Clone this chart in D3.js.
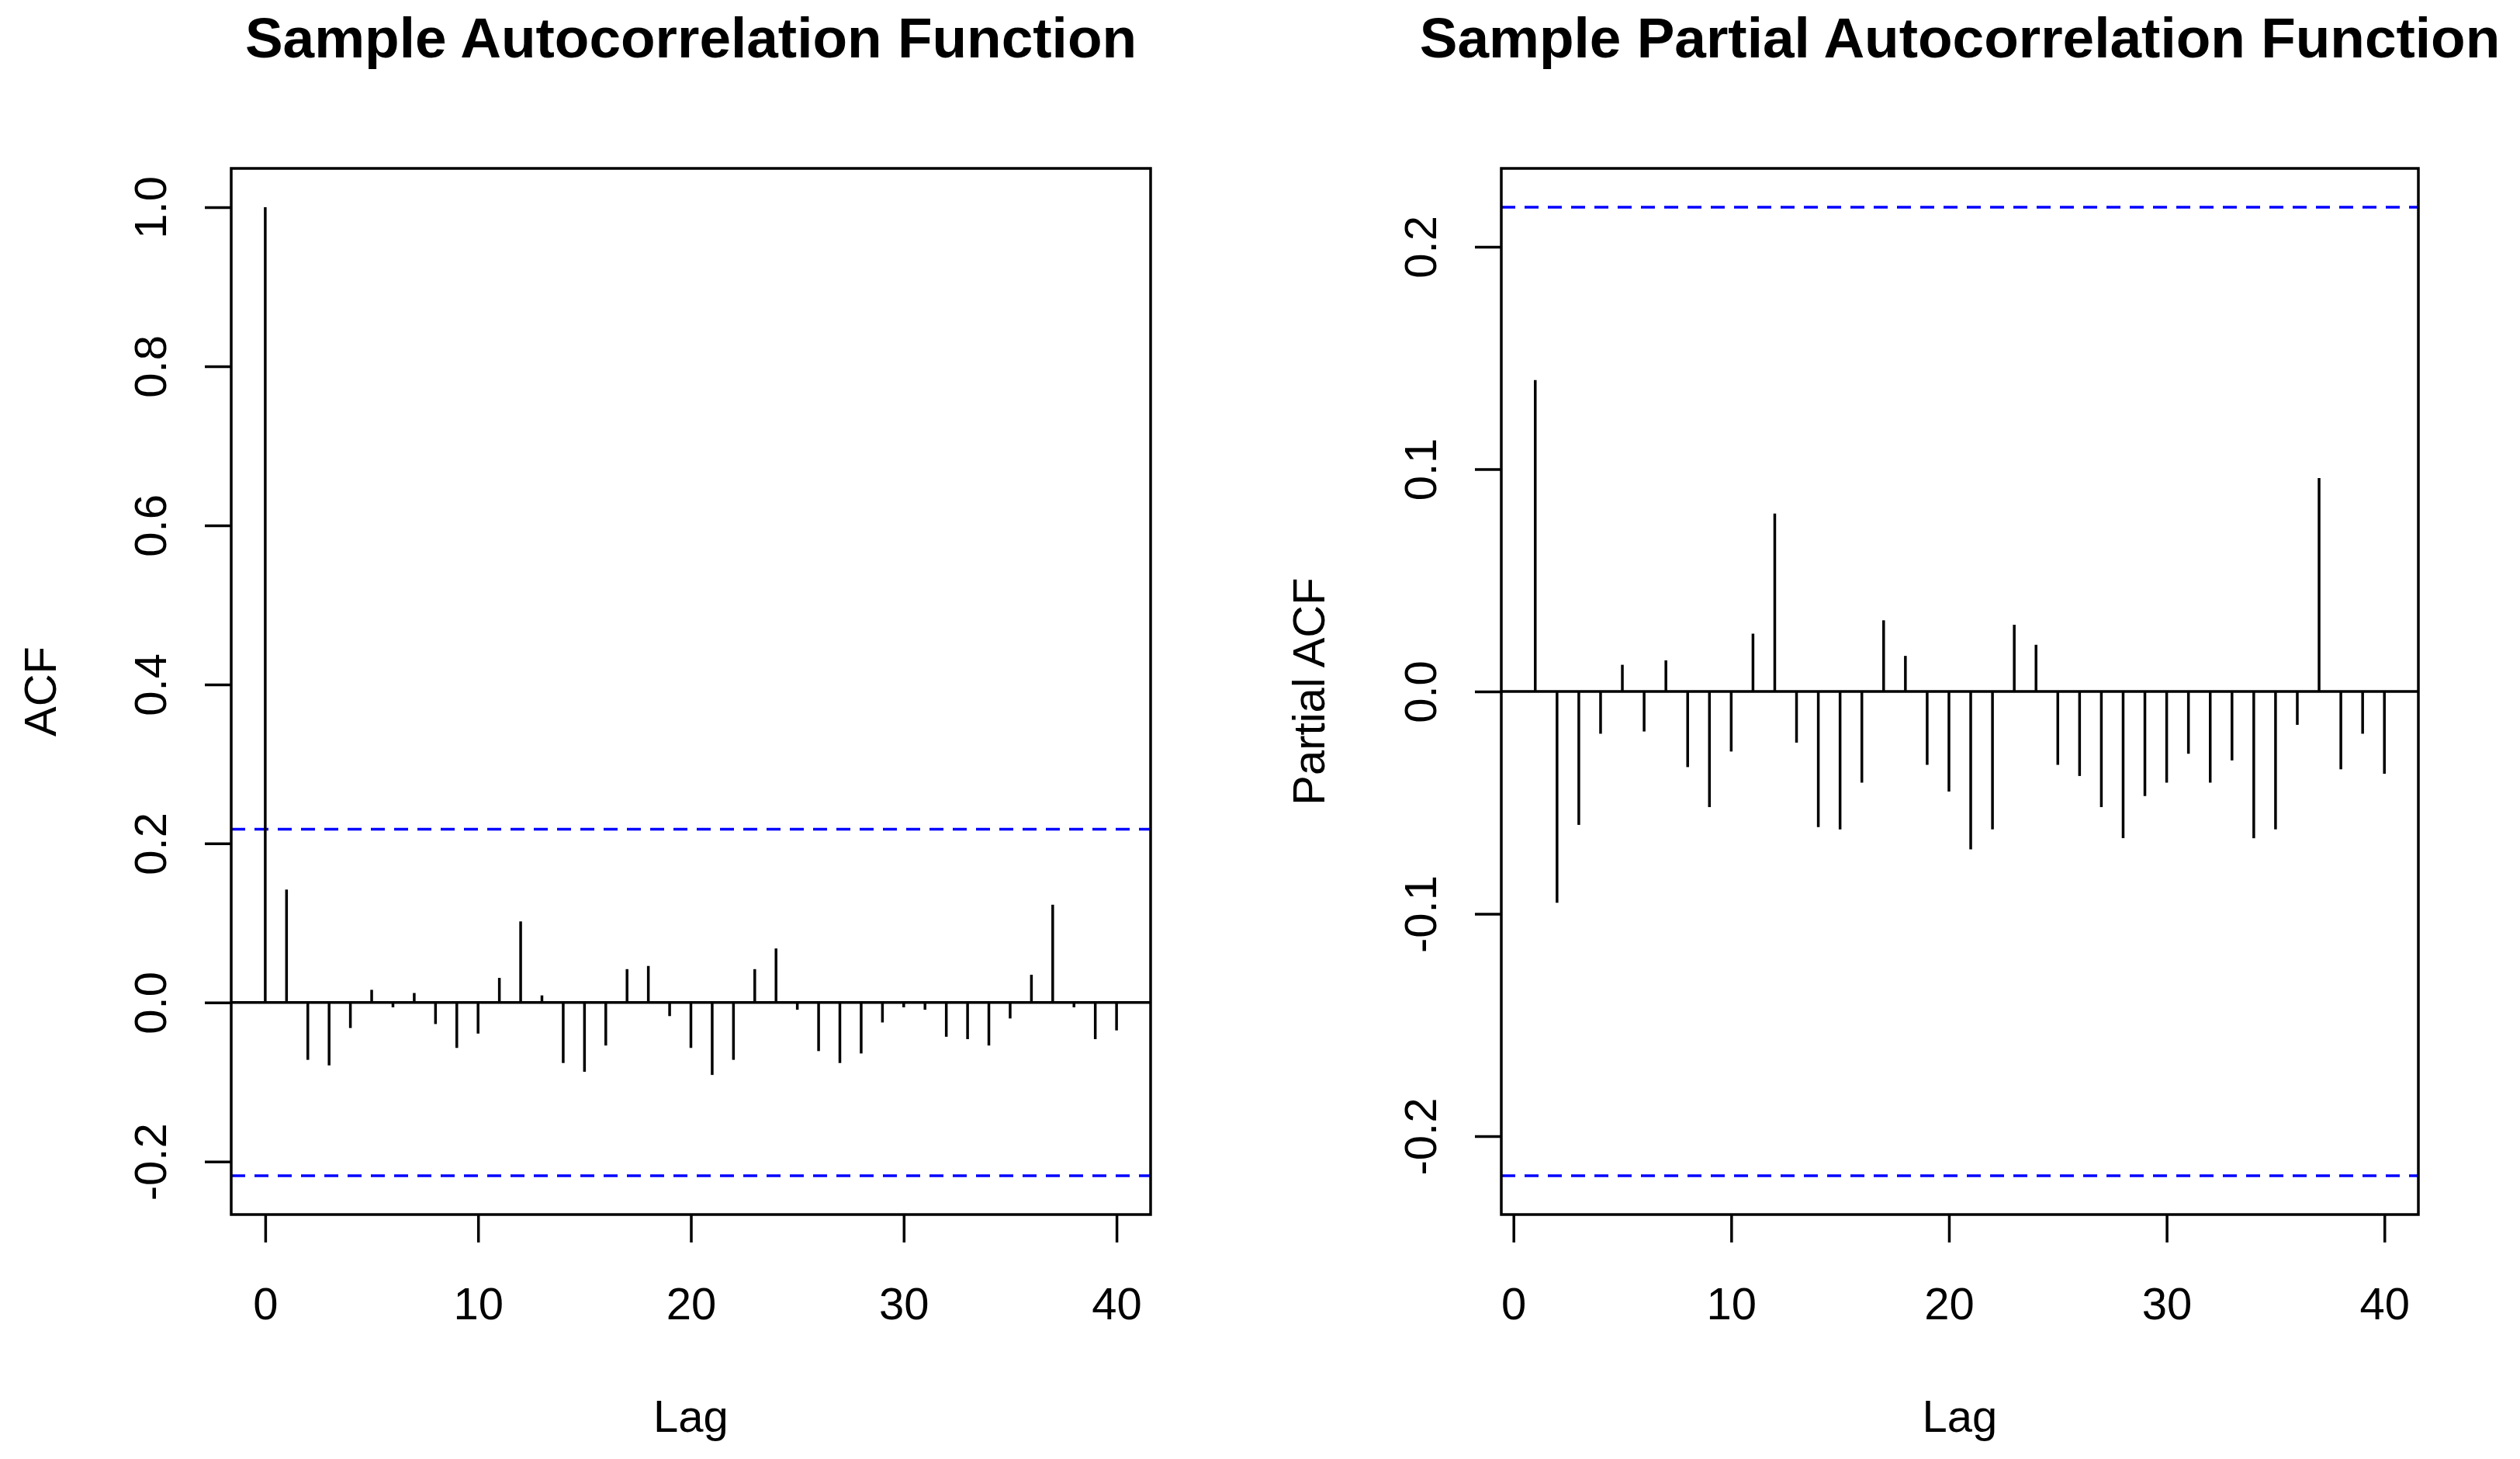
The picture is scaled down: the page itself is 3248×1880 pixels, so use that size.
<!DOCTYPE html>
<html>
<head>
<meta charset="utf-8">
<script src="https://cdn.jsdelivr.net/npm/d3@7"></script>
<style>
body { margin: 0; background: #fff; }
text { font-family: "Liberation Sans", Arial, sans-serif; fill: #000; }
</style>
</head>
<body>
<svg id="chart" width="3248" height="1880"></svg>
<script>
var acfLags = d3.range(0, 41);
var acfValues = [1.0, 0.142, -0.072, -0.079, -0.032, 0.016, -0.006, 0.012, -0.027, -0.057,
    -0.039, 0.031, 0.102, 0.009, -0.076, -0.087, -0.054, 0.042, 0.046, -0.017,
    -0.057, -0.091, -0.072, 0.042, 0.068, -0.009, -0.061, -0.076, -0.064, -0.025,
    -0.006, -0.009, -0.043, -0.046, -0.054, -0.020, 0.035, 0.123, -0.006, -0.046,
    -0.035];

var pacfLags = d3.range(1, 41);
var pacfValues = [0.140, -0.095, -0.060, -0.019, 0.012, -0.018, 0.014, -0.034, -0.052, -0.027,
    0.026, 0.080, -0.023, -0.061, -0.062, -0.041, 0.032, 0.016, -0.033, -0.045,
    -0.071, -0.062, 0.030, 0.021, -0.033, -0.038, -0.052, -0.066, -0.047, -0.041,
    -0.028, -0.041, -0.031, -0.066, -0.062, -0.015, 0.096, -0.035, -0.019, -0.037];

var lagTicks = [0, 10, 20, 30, 40];
var acfTicks = [-0.2, 0.0, 0.2, 0.4, 0.6, 0.8, 1.0];
var pacfTicks = [-0.2, -0.1, 0.0, 0.1, 0.2];
var ciBound = 0.2178;

var svg = d3.select("#chart");
var lw = 3.5;

// R style: 4% padding on both ends
function padded(ext){
    var p = (ext[1] - ext[0]) * 0.04;
    return [ext[0] - p, ext[1] + p];
}

function drawPanel(svg, cfg){
    var x = d3.scaleLinear()
        .domain(padded(d3.extent(cfg.lags)))
        .range([cfg.left, cfg.right]);
    var y = d3.scaleLinear()
        .domain(padded(d3.extent(cfg.values.concat([ciBound, -ciBound]))))
        .range([cfg.bottom, cfg.top]);

    var g = svg.append("g");

    // confidence band
    g.selectAll(".ci")
        .data([ciBound, -ciBound])
        .enter().append("line")
        .attr("x1", cfg.left)
        .attr("x2", cfg.right)
        .attr("y1", function(d){ return y(d); })
        .attr("y2", function(d){ return y(d); })
        .attr("stroke", "#0000ff")
        .attr("stroke-width", lw)
        .attr("stroke-dasharray", "18,12");

    g.append("line")
        .attr("x1", cfg.left)
        .attr("x2", cfg.right)
        .attr("y1", y(0))
        .attr("y2", y(0))
        .attr("stroke", "#000")
        .attr("stroke-width", lw);

    g.selectAll(".bar")
        .data(cfg.lags)
        .enter().append("line")
        .attr("class", "bar")
        .attr("x1", function(d){ return x(d); })
        .attr("x2", function(d){ return x(d); })
        .attr("y1", y(0))
        .attr("y2", function(d, i){ return y(cfg.values[i]); })
        .attr("stroke", "#000")
        .attr("stroke-width", lw);

    g.append("rect")
        .attr("x", cfg.left)
        .attr("y", cfg.top)
        .attr("width", cfg.right - cfg.left)
        .attr("height", cfg.bottom - cfg.top)
        .attr("fill", "none")
        .attr("stroke", "#000")
        .attr("stroke-width", lw);

    var xAxis = g.append("g")
        .attr("transform", "translate(0," + cfg.bottom + ")")
        .call(d3.axisBottom(x).tickValues(lagTicks).tickSize(36).tickSizeOuter(0));
    xAxis.select(".domain").remove();
    xAxis.selectAll("line").attr("stroke", "#000").attr("stroke-width", lw);
    xAxis.selectAll("text")
        .attr("y", 135)
        .attr("dy", 0)
        .style("font-size", "58px")
        .attr("fill", "#000");

    var yAxis = g.append("g")
        .attr("transform", "translate(" + cfg.left + ",0)")
        .call(d3.axisLeft(y).tickValues(cfg.ticks).tickSize(34).tickSizeOuter(0)
            .tickFormat(function(d){ return d.toFixed(1); }));
    yAxis.select(".domain").remove();
    yAxis.selectAll("line").attr("stroke", "#000").attr("stroke-width", lw);
    yAxis.selectAll("text")
        .attr("transform", "rotate(-90)")
        .attr("x", 0)
        .attr("y", -84)
        .attr("dy", 0)
        .attr("text-anchor", "middle")
        .style("font-size", "58px")
        .attr("fill", "#000");

    var cx = (cfg.left + cfg.right) / 2;
    var cy = (cfg.top + cfg.bottom) / 2;

    svg.append("text")
        .attr("x", cx)
        .attr("y", 74)
        .attr("text-anchor", "middle")
        .style("font-size", "73px")
        .style("font-weight", "bold")
        .text(cfg.title);

    svg.append("text")
        .attr("x", cx)
        .attr("y", 1845)
        .attr("text-anchor", "middle")
        .style("font-size", "58px")
        .text("Lag");

    svg.append("text")
        .attr("transform", "translate(" + cfg.ylabelX + "," + cy + ") rotate(-90)")
        .attr("text-anchor", "middle")
        .style("font-size", "58px")
        .text(cfg.ylabel);
}

drawPanel(svg, {
    lags: acfLags, values: acfValues, ticks: acfTicks,
    left: 298, right: 1483, top: 217, bottom: 1565,
    title: "Sample Autocorrelation Function", ylabel: "ACF", ylabelX: 72
});

drawPanel(svg, {
    lags: pacfLags, values: pacfValues, ticks: pacfTicks,
    left: 1935, right: 3117, top: 217, bottom: 1565,
    title: "Sample Partial Autocorrelation Function", ylabel: "Partial ACF", ylabelX: 1707
});
</script>
</body>
</html>
